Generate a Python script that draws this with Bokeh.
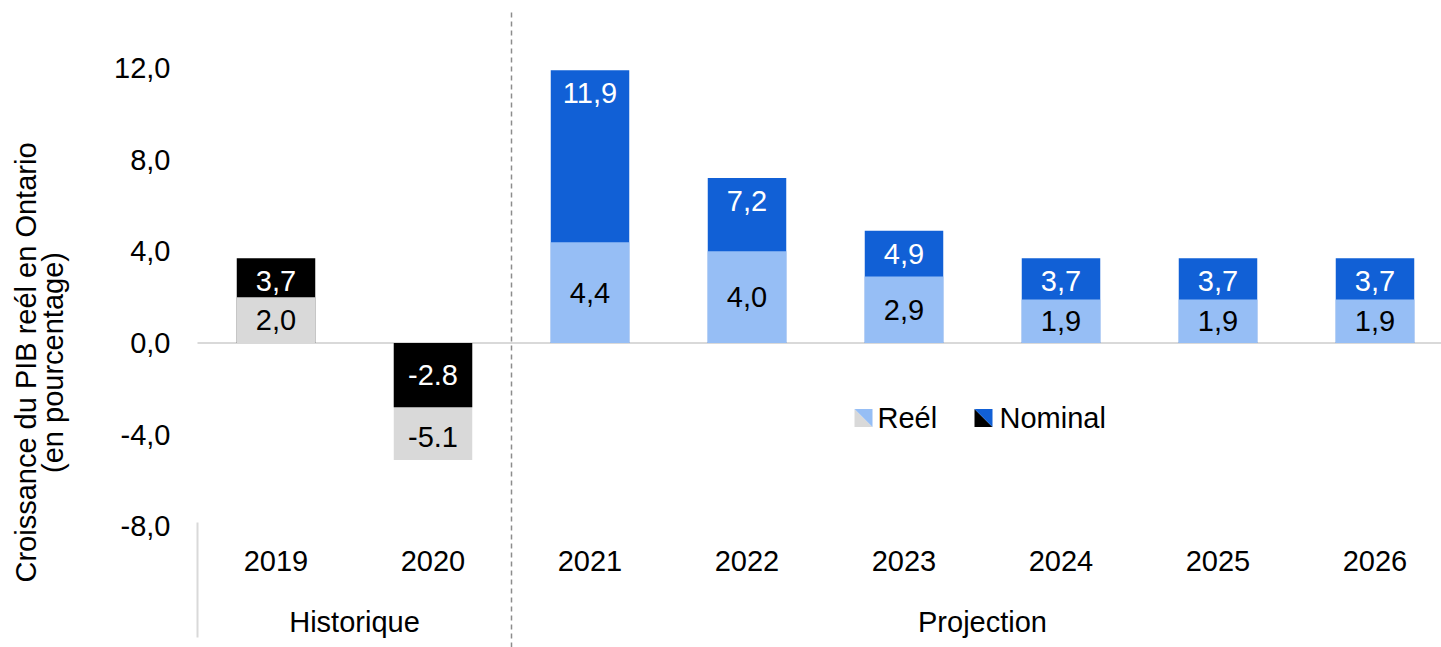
import numpy as np
from bokeh.plotting import figure
from bokeh.models import ColumnDataSource, Range1d, LinearAxis, FixedTicker
from bokeh.core.properties import value
from bokeh.embed import file_html
from bokeh.resources import INLINE

# ---------------- data ----------------
years = ["2019", "2020", "2021", "2022", "2023", "2024", "2025", "2026"]
periods = ["Historique", "Historique", "Projection", "Projection",
           "Projection", "Projection", "Projection", "Projection"]
reel = [2.0, -5.1, 4.4, 4.0, 2.9, 1.9, 1.9, 1.9]
nominal = [3.7, -2.8, 11.9, 7.2, 4.9, 3.7, 3.7, 3.7]
reel_labels = ["2,0", "-5.1", "4,4", "4,0", "2,9", "1,9", "1,9", "1,9"]
nominal_labels = ["3,7", "-2.8", "11,9", "7,2", "4,9", "3,7", "3,7", "3,7"]
series_names = ["Reél", "Nominal"]
y_ticks = [-8, -4, 0, 4, 8, 12]
y_tick_labels = ["-8,0", "-4,0", "0,0", "4,0", "8,0", "12,0"]
y_title = ["Croissance du PIB reél en Ontario", "(en pourcentage)"]

# ---------------- styles ----------------
FONT = "Liberation Sans"
FS = "29px"
period_colors = {"Historique": ("#D9D9D9", "#000000"),
                 "Projection": ("#96BEF5", "#1160D6")}
label_colors = ("#000000", "#FFFFFF")

# ---------------- layout (pixels) ----------------
W, H = 1441, 647
X0_PX = 197.0       # left edge of the category area
CAT_PX = 157.0      # pixels per category
Y_PX = 22.92        # pixels per percentage point
ZERO_PX = 342.5     # pixel row of the zero line

def px_x(px):
    return (px - X0_PX) / CAT_PX

def px_y(py):
    return (ZERO_PX - py) / Y_PX

p = figure(width=W, height=H,
           x_range=Range1d(px_x(0), px_x(W)),
           y_range=Range1d(px_y(H), px_y(0)),
           x_axis_type=None, y_axis_type=None,
           output_backend="svg", toolbar_location=None,
           min_border_left=0, min_border_right=0,
           min_border_top=0, min_border_bottom=0)
p.outline_line_color = None
p.background_fill_color = "white"
p.border_fill_color = "white"

n = len(years)
xc = np.arange(n) + 0.5
r = np.array(reel)
nm = np.array(nominal)
reel_col = [period_colors[g][0] for g in periods]
nom_col = [period_colors[g][1] for g in periods]
reel_back = np.abs(r) > np.abs(nm)

back_top = np.where(reel_back, r, nm)
front_top = np.where(reel_back, nm, r)
back_col = [rc if b else nc for rc, nc, b in zip(reel_col, nom_col, reel_back)]
front_col = [nc if b else rc for rc, nc, b in zip(reel_col, nom_col, reel_back)]

OFF = 23  # px inside the end of the back bar
reel_y = np.where(reel_back, r, r / 2)
reel_off = np.where(reel_back, OFF * np.sign(r), 0)
nom_y = np.where(reel_back, nm / 2, nm)
nom_off = np.where(reel_back, 0, OFF * np.sign(nm))

src = ColumnDataSource(dict(
    x=xc, back=back_top, front=front_top, back_col=back_col, front_col=front_col,
    ry=reel_y, roff=reel_off, rlab=reel_labels,
    ny=nom_y, noff=nom_off, nlab=nominal_labels,
))

# group boundaries
groups = []
for i, g in enumerate(periods):
    if not groups or groups[-1][0] != g:
        groups.append([g, i, i + 1])
    else:
        groups[-1][2] = i + 1
group_centers = [(a + b) / 2 for _, a, b in groups]

# zero line
p.segment(x0=[0], x1=[px_x(W)], y0=[0], y1=[0], line_color="#D9D9D9",
          line_width=2)

BAR_W = 0.5
p.vbar(x="x", top="back", bottom=0, width=BAR_W, fill_color="back_col",
       line_color=None, source=src)
p.vbar(x="x", top="front", bottom=0, width=BAR_W, fill_color="front_col",
       line_color=None, source=src)

p.text(x="x", y="ry", text="rlab", y_offset="roff", source=src,
       text_align="center", text_baseline="middle",
       text_font=value(FONT), text_font_size=FS, text_color=label_colors[0])
p.text(x="x", y="ny", text="nlab", y_offset="noff", source=src,
       text_align="center", text_baseline="middle",
       text_font=value(FONT), text_font_size=FS, text_color=label_colors[1])

# left separator (below the plot area)
p.segment(x0=[groups[0][1]], x1=[groups[0][1]], y0=[px_y(522)],
          y1=[px_y(637)], line_color="#D9D9D9", line_width=2)
# dashed separator between groups
for _, a, b in groups[1:]:
    p.segment(x0=[a], x1=[a], y0=[px_y(12)], y1=[px_y(H)],
              line_color="#8C8C8C", line_width=1.5, line_dash="5 4")

def style_axis(ax, standoff):
    ax.axis_line_color = None
    ax.major_tick_line_color = None
    ax.minor_tick_line_color = None
    ax.major_tick_in = 0
    ax.major_tick_out = 0
    ax.minor_tick_in = 0
    ax.minor_tick_out = 0
    ax.major_label_standoff = standoff
    ax.major_label_text_font = FONT
    ax.major_label_text_font_size = FS
    ax.major_label_text_color = "#000000"

# y axis (drawn at the left edge of the category area)
ya = LinearAxis(ticker=FixedTicker(ticks=y_ticks, minor_ticks=[]),
                major_label_overrides={float(t): l for t, l in zip(y_ticks, y_tick_labels)},
                fixed_location=0)
style_axis(ya, 27)
p.add_layout(ya, "left")

# year axis
xa = LinearAxis(ticker=FixedTicker(ticks=list(xc), minor_ticks=[]),
                major_label_overrides={float(c): yv for c, yv in zip(xc, years)},
                fixed_location=y_ticks[0])
style_axis(xa, 25)
p.add_layout(xa, "below")

# period axis
ga = LinearAxis(ticker=FixedTicker(ticks=group_centers, minor_ticks=[]),
                major_label_overrides={float(c): g[0] for c, g in zip(group_centers, groups)},
                fixed_location=y_ticks[0])
style_axis(ga, 80)
p.add_layout(ga, "below")

# y-axis title (two lines, rotated)
p.text(x=[px_x(25), px_x(52)], y=[px_y(362)] * 2, text=y_title,
       angle=np.pi / 2, text_align="center", text_baseline="middle",
       text_font=value(FONT), text_font_size=FS, text_color="#000000")

# legend (diagonally split swatches)
LEG_Y = px_y(417.5)
ICON_W = 18 / CAT_PX
ICON_H = 18 / Y_PX
leg_x = [px_x(854), px_x(974)]
leg_tx = [px_x(877), px_x(999)]
leg_cols = [(period_colors["Historique"][0], period_colors["Projection"][0]),
            (period_colors["Historique"][1], period_colors["Projection"][1])]
xs, ys, cs = [], [], []
for x0, (c_low, c_up) in zip(leg_x, leg_cols):
    x1 = x0 + ICON_W
    yb, yt = LEG_Y - ICON_H / 2, LEG_Y + ICON_H / 2
    xs += [[x0, x0, x1], [x0, x1, x1]]
    ys += [[yt, yb, yb], [yt, yt, yb]]
    cs += [c_low, c_up]
p.patches(xs=xs, ys=ys, fill_color=cs, line_color=None)
p.text(x=leg_tx, y=[LEG_Y] * 2, text=series_names, text_align="left",
       text_baseline="middle", text_font=value(FONT), text_font_size=FS,
       text_color="#000000")

open("out.html", "w").write(file_html(p, INLINE))
